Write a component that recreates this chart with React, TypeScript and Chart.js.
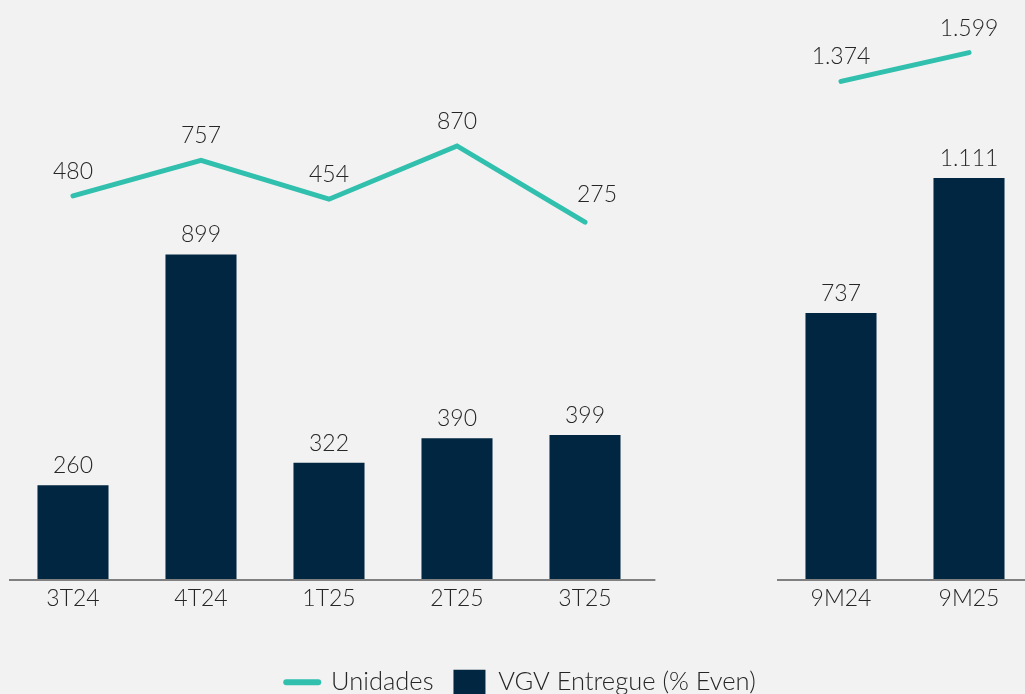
import React, { useEffect, useRef } from "react";
import { Chart, registerables } from "chart.js";

Chart.register(...registerables);

const quarterLabels = ["3T24", "4T24", "1T25", "2T25", "3T25"];
const ytdLabels = ["9M24", "9M25"];
const quarterVgv = [260, 899, 322, 390, 399];
const ytdVgv = [737, 1111];
const quarterUnits = [480, 757, 454, 870, 275];
const ytdUnits = [1374, 1599];

const NAVY = "#002641";
const TEAL = "#31bfae";
const TEXT = "#262626";
const BG = "#f2f2f2";
const FONT = "Lato, 'Noto Sans', sans-serif";

const labels = [...quarterLabels, "", ...ytdLabels];
const vgvData: (number | null)[] = [...quarterVgv, null, ...ytdVgv];
const unitsData: (number | null)[] = [...quarterUnits, null, ...ytdUnits];

const fmt = (v: number) => {
  const s = String(Math.round(v));
  return s.replace(/\B(?=(\d{3})+(?!\d))/g, ".");
};

const axisLinePlugin = {
  id: "axisLines",
  beforeDatasetsDraw(chart: any) {
    const x = chart.scales.x;
    const y = chart.scales.y;
    const ctx = chart.ctx;
    const half = x.width / labels.length / 2;
    const yPix = y.getPixelForValue(0) + 1;
    const groups = [
      [0, quarterLabels.length - 1],
      [quarterLabels.length + 1, labels.length - 1],
    ];
    ctx.save();
    ctx.strokeStyle = "#808080";
    ctx.lineWidth = 2;
    groups.forEach(([a, b]) => {
      const x0 = x.getPixelForValue(a) - half * 1.0;
      const x1 = x.getPixelForValue(b) + half * 1.1;
      ctx.beginPath();
      ctx.moveTo(x0, yPix);
      ctx.lineTo(x1, yPix);
      ctx.stroke();
    });
    ctx.restore();
  },
};

const labelNudge: Record<number, [number, number]> = { 4: [12, -3] };

const valueLabelPlugin = {
  id: "valueLabels",
  afterDatasetsDraw(chart: any) {
    const ctx = chart.ctx;
    ctx.save();
    ctx.font = `300 23px ${FONT}`;
    ctx.fillStyle = TEXT;
    ctx.textAlign = "center";
    ctx.textBaseline = "alphabetic";
    chart.data.datasets.forEach((ds: any, di: number) => {
      const meta = chart.getDatasetMeta(di);
      meta.data.forEach((el: any, i: number) => {
        const v = ds.data[i];
        if (v == null) return;
        if (ds.type === "line") {
          const n = labelNudge[i] || [0, 0];
          ctx.fillText(fmt(v), el.x + n[0], el.y - 17 + n[1]);
        } else {
          ctx.fillText(fmt(v), el.x, el.y - 12);
        }
      });
    });
    ctx.restore();
  },
};

export default function App() {
  const ref = useRef<HTMLCanvasElement>(null);
  useEffect(() => {
    if (!ref.current) return;
    const chart = new Chart(ref.current, {
      type: "bar",
      data: {
        labels,
        datasets: [
          {
            type: "line",
            label: "Unidades",
            data: unitsData,
            yAxisID: "y1",
            borderColor: TEAL,
            backgroundColor: TEAL,
            borderWidth: 5,
            borderCapStyle: "round",
            pointRadius: 0,
            tension: 0,
            spanGaps: false,
            order: 0,
          } as any,
          {
            type: "bar",
            label: "VGV Entregue (% Even)",
            data: vgvData,
            yAxisID: "y",
            backgroundColor: NAVY,
            borderWidth: 0,
            categoryPercentage: 1,
            barPercentage: 0.555,
            order: 1,
          } as any,
        ],
      },
      options: {
        responsive: false,
        animation: false,
        events: [],
        layout: { padding: { left: 9, right: 8, top: 10, bottom: 0 } },
        scales: {
          x: {
            grid: { display: false, drawTicks: false },
            border: { display: false },
            ticks: {
              color: TEXT,
              font: { family: FONT, size: 23, weight: "300" as any },
              padding: 6,
            },
            afterFit: (s: any) => {
              s.height = 70.5;
            },
          },
          y: { display: false, min: 0, max: 1576 },
          y1: { display: false, min: -2513, max: 1932 },
        },
        plugins: {
          tooltip: { enabled: false },
          legend: {
            position: "bottom",
            labels: {
              usePointStyle: true,
              pointStyleWidth: 32,
              boxHeight: 25,
              padding: 20,
              color: TEXT,
              font: { family: FONT, size: 25.5, weight: "300" as any },
              generateLabels: () => [
                {
                  text: "Unidades",
                  fillStyle: TEAL,
                  strokeStyle: TEAL,
                  lineWidth: 6,
                  lineCap: "round",
                  pointStyle: "line",
                  fontColor: TEXT,
                  datasetIndex: 0,
                } as any,
                {
                  text: "VGV Entregue (% Even)",
                  fillStyle: NAVY,
                  strokeStyle: NAVY,
                  lineWidth: 0,
                  pointStyle: "rect",
                  fontColor: TEXT,
                  datasetIndex: 1,
                } as any,
              ],
            },
          },
        },
      },
      plugins: [axisLinePlugin, valueLabelPlugin],
    });
    return () => chart.destroy();
  }, []);
  return (
    <div
      style={{
        position: "fixed",
        left: 0,
        top: 0,
        width: 1025,
        height: 694,
        overflow: "hidden",
        background: BG,
      }}
    >
      <canvas ref={ref} width={1041} height={705} style={{ display: "block" }} />
    </div>
  );
}
